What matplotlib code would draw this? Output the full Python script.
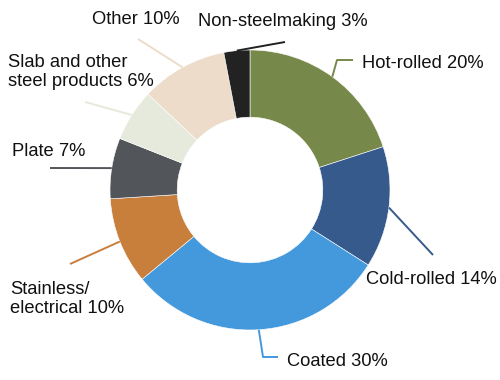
import numpy as np
import matplotlib
matplotlib.use("Agg")
import matplotlib.pyplot as plt

plt.rcParams['font.family'] = ['Liberation Sans', 'DejaVu Sans']

etiquetas = ["Hot-rolled 20%", "Cold-rolled 14%", "Coated 30%", "Stainless/\nelectrical 10%",
             "Plate 7%", "Slab and other\nsteel products 6%", "Other 10%", "Non-steelmaking 3%"]
valores = [20, 14, 30, 10, 7, 6, 10, 3]
colores = ["#77894a", "#375a8c", "#4499dd", "#c87f3c", "#52565b", "#e6eadc", "#eedccb", "#222222"]

# posiciones de texto y quiebres de las lineas (en pixeles, y hacia abajo)
pos_texto = [(362, 63), (366, 279), (287, 361), (10, 299), (12, 152), (8, 72), (92, 20), (198, 22)]
quiebres = [[(337, 60), (353, 60)], [(433, 255)], [(263, 357), (278, 357)], [(70, 264)],
            [(50, 168)], [(85, 102)], [(138, 39)], [(285, 42)]]

W, H = 500, 380
cx, cy, R = 250, 190, 140

fig = plt.figure(figsize=(5, 3.8), dpi=100)
ax = fig.add_axes([0, 0, 1, 1])
ax.axis('off')

cunas, _ = ax.pie(valores, colors=colores, startangle=90, counterclock=False,
                  center=(cx, H - cy), radius=R,
                  wedgeprops=dict(width=R * 0.48, edgecolor='white', linewidth=0.4))
ax.set_xlim(0, W)
ax.set_ylim(0, H)
ax.set_aspect('equal')

for c, etiqueta, col, (tx, ty), pts in zip(cunas, etiquetas, colores, pos_texto, quiebres):
    ang = np.deg2rad((c.theta1 + c.theta2) / 2)
    x0 = cx + R * np.cos(ang)
    y0 = (H - cy) + R * np.sin(ang)
    xs = [x0] + [p[0] for p in pts]
    ys = [y0] + [H - p[1] for p in pts]
    ax.plot(xs, ys, color=col, lw=1.4, solid_capstyle='butt')
    ax.text(tx, H - ty, etiqueta, ha='left', va='center', fontsize=13.2,
            color='#111111', linespacing=1.2)

fig.savefig("out.png", dpi=100)
